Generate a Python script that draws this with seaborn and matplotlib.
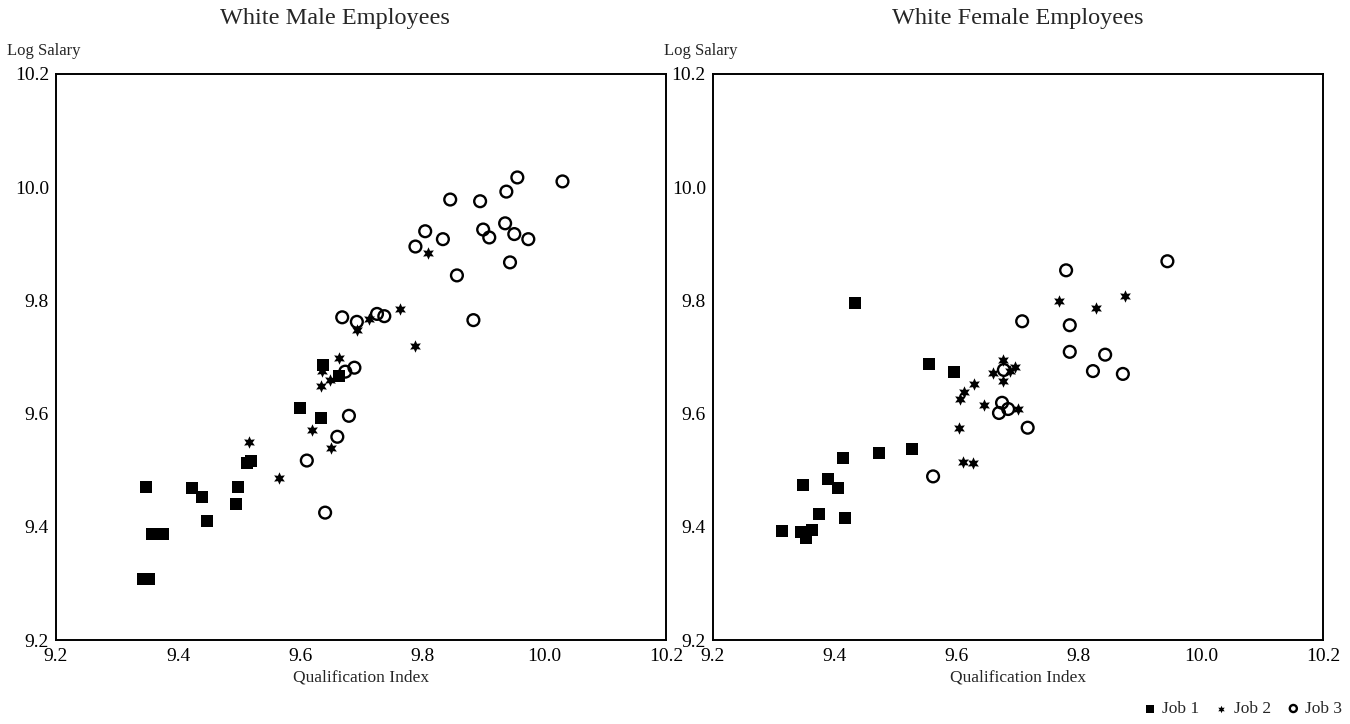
import pandas as pd
import matplotlib.pyplot as plt
import seaborn as sns


# Data (qualification index, log salary)

male_job1_x = [9.348, 9.357, 9.375, 9.343, 9.353, 9.423, 9.439, 9.448, 9.498, 9.495,
               9.513, 9.520, 9.600, 9.634, 9.638, 9.664]
male_job1_y = [9.471, 9.388, 9.388, 9.307, 9.307, 9.468, 9.452, 9.410, 9.471, 9.441,
               9.513, 9.517, 9.610, 9.593, 9.686, 9.667]

male_job2_x = [9.516, 9.566, 9.620, 9.634, 9.651, 9.664, 9.636, 9.649, 9.693, 9.713,
               9.764, 9.789, 9.810]
male_job2_y = [9.550, 9.487, 9.571, 9.649, 9.540, 9.698, 9.675, 9.660, 9.748, 9.767,
               9.785, 9.719, 9.883]

male_job3_x = [9.611, 9.641, 9.661, 9.680, 9.669, 9.693, 9.726, 9.738, 9.674, 9.689,
               9.956, 10.030, 9.846, 9.895, 9.938, 9.805, 9.789, 9.834, 9.900, 9.910,
               9.936, 9.951, 9.974, 9.944, 9.857, 9.884]
male_job3_y = [9.517, 9.425, 9.559, 9.596, 9.770, 9.762, 9.776, 9.772, 9.674, 9.681,
               10.017, 10.010, 9.978, 9.975, 9.992, 9.922, 9.895, 9.908, 9.925, 9.911,
               9.936, 9.917, 9.908, 9.867, 9.844, 9.765]

female_job1_x = [9.433, 9.554, 9.595, 9.526, 9.472, 9.413, 9.389, 9.348, 9.405, 9.374,
                 9.416, 9.313, 9.344, 9.362, 9.352]
female_job1_y = [9.795, 9.688, 9.674, 9.538, 9.531, 9.522, 9.485, 9.473, 9.469, 9.422,
                 9.415, 9.392, 9.390, 9.394, 9.381]

female_job2_x = [9.628, 9.611, 9.605, 9.644, 9.603, 9.610, 9.626, 9.675, 9.659, 9.675,
                 9.695, 9.687, 9.700, 9.767, 9.828, 9.875]
female_job2_y = [9.652, 9.638, 9.626, 9.615, 9.575, 9.515, 9.513, 9.695, 9.672, 9.658,
                 9.682, 9.675, 9.608, 9.799, 9.786, 9.807]

female_job3_x = [9.561, 9.779, 9.707, 9.785, 9.785, 9.843, 9.823, 9.872, 9.677, 9.674,
                 9.684, 9.669, 9.716, 9.945]
female_job3_y = [9.489, 9.853, 9.763, 9.756, 9.709, 9.704, 9.675, 9.670, 9.677, 9.619,
                 9.608, 9.601, 9.575, 9.869]

panels = {
    'White Male Employees': [(male_job1_x, male_job1_y), (male_job2_x, male_job2_y),
                             (male_job3_x, male_job3_y)],
    'White Female Employees': [(female_job1_x, female_job1_y), (female_job2_x, female_job2_y),
                               (female_job3_x, female_job3_y)],
}
job_labels = ['Job 1', 'Job 2', 'Job 3']
ticks = [9.2, 9.4, 9.6, 9.8, 10.0, 10.2]

sns.set_style('white')
plt.rcParams['font.family'] = ['Liberation Serif', 'DejaVu Serif']

fig = plt.figure(figsize=(13.5, 7.24), dpi=100)
axes = [fig.add_axes([0.0415, 0.116, 0.452, 0.782]),
        fig.add_axes([0.528, 0.116, 0.452, 0.782])]
title_x = [0.457, 0.50]

# marker look per job: filled square, small filled star, open circle
styles = [dict(marker='s', s=72, linewidth=0),
          dict(marker=(6, 1, 0), s=80, linewidth=0),
          dict(marker='o', s=72, linewidth=1.7)]

for ax, (title, series), tx in zip(axes, panels.items(), title_x):
    for (xs, ys), lab, st in zip(series, job_labels, styles):
        df = pd.DataFrame({'qual': xs, 'salary': ys})
        sns.scatterplot(data=df, x='qual', y='salary', color='black', edgecolor='black',
                        label=lab, ax=ax, **st)
        if lab == 'Job 3':
            ax.collections[-1].set_facecolor('none')
    ax.legend_.remove()

    ax.set_xlim(9.2, 10.2)
    ax.set_ylim(9.2, 10.2)
    ax.set_xticks(ticks)
    ax.set_yticks(ticks)
    ax.set_xticklabels([f'{t:.1f}' for t in ticks], fontsize=14)
    ax.set_yticklabels([f'{t:.1f}' for t in ticks], fontsize=14)
    ax.tick_params(direction='in', length=8, width=1.2, colors='black')
    ax.tick_params(axis='x', pad=6)
    ax.tick_params(axis='y', pad=5)
    for sp in ax.spines.values():
        sp.set_visible(True)
        sp.set_linewidth(1.4)
        sp.set_color('black')

    ax.set_xlabel('Qualification Index', fontsize=12.5, labelpad=3)
    ax.set_ylabel('')
    ax.text(tx, 1.097, title, transform=ax.transAxes, fontsize=17.5,
            ha='center', va='center')
    ax.text(-0.08, 1.04, 'Log Salary', transform=ax.transAxes, fontsize=12,
            ha='left', va='center')

handles, labels = axes[1].get_legend_handles_labels()
fig.legend(handles, labels, loc='lower right', bbox_to_anchor=(1.006, -0.012), ncol=3,
           frameon=False, fontsize=12.5, markerscale=0.6, handlelength=0.6,
           handletextpad=0.4, columnspacing=1.0)

plt.savefig('out.png', dpi=100)
